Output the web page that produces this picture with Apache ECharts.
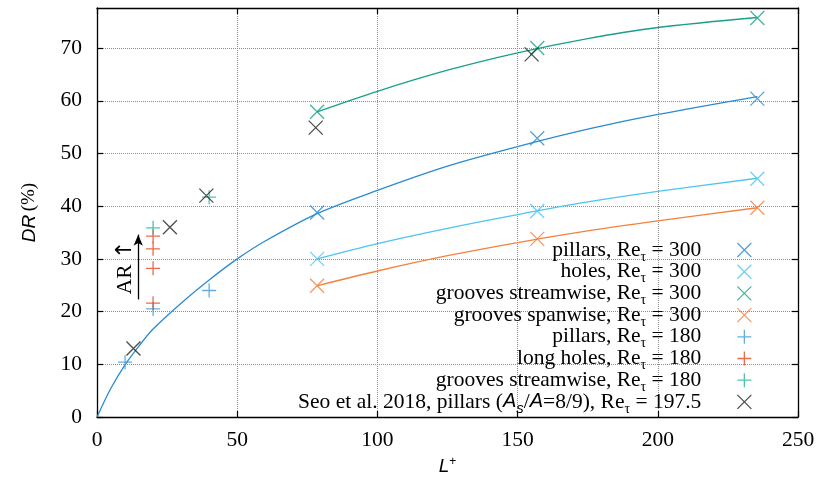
<!DOCTYPE html>
<html><head><meta charset="utf-8">
<script src="https://cdn.jsdelivr.net/npm/echarts@6/dist/echarts.min.js"></script>
<style>html,body{margin:0;padding:0;background:#fff}#c{width:822px;height:482px}</style>
</head><body><div id="c"></div><script>
// ---- tick labels ----
const xTicks = [0, 50, 100, 150, 200, 250];
const yTicks = [0, 10, 20, 30, 40, 50, 60, 70];

// ---- Re_tau = 300 data ----
const L300 = [78.5, 157, 235.5];
const pillars300 = [38.8, 52.9, 60.4];
const holes300 = [30.0, 39.1, 45.2];
const groovesStream300 = [57.9, 70.0, 75.7];
const groovesSpan300 = [24.9, 33.8, 39.7];

// ---- Re_tau = 180 data ----
const pillars180L = [10, 20, 40];
const pillars180 = [10.4, 20.5, 24.0];
const longHoles180L = [20, 20, 20, 20];
const longHoles180 = [21.6, 28.2, 31.9, 34.3];
const groovesStream180L = [20, 40];
const groovesStream180 = [35.9, 41.7];

// ---- Seo et al. 2018 ----
const seoL = [13, 26, 39, 78, 155];
const seoDR = [13.0, 36.0, 42.0, 54.9, 68.8];

// ---- fitted curves ----
const fitPillarsL = [0, 5, 10, 15, 20, 30, 40, 50, 60, 78.5, 100, 125, 150, 175, 200, 235.5];
const fitPillarsDR = [0, 5.5, 9.9, 13.5, 16.7, 21.6, 26.0, 30.0, 33.4, 38.6, 43.0, 47.6, 51.3, 54.6, 57.4, 60.8];
const fitL300 = [78.5, 100, 125, 150, 175, 200, 235.5];
const fitGroovesStreamDR = [57.9, 61.8, 65.8, 69.1, 71.8, 73.9, 75.8];
const fitHolesDR = [30.0, 32.9, 35.8, 38.4, 40.8, 42.8, 45.3];
const fitGroovesSpanDR = [24.9, 27.7, 30.6, 33.1, 35.3, 37.2, 39.7];

// ---- AR annotation (data coords) ----
const arrowL = [14.7, 14.7];
const arrowDR = [22.3, 34.6];
const arText = [10.2, 28.4];

const zip = (xs, ys) => xs.map((x, i) => [x, ys[i]]);
const X = 'path://M0,0L10,10M10,0L0,10';
const P = 'path://M5,0L5,10M0,5L10,5';
const SERIF = 'Liberation Serif';
const SANS = 'Liberation Sans';
const FS = 21.5;

const C = {
  pillars300: '#2a8bd0', holes300: '#4dc4f2', gs300: '#19a08a', gsp300: '#f5803e',
  pillars180: '#3a98da', lh180: '#e8441f', gs180: '#22b49a', seo: '#222222'
};
const labels = {
  pillars300: 'pillars, Re{s|τ} = 300',
  holes300: 'holes, Re{s|τ} = 300',
  gs300: 'grooves streamwise, Re{s|τ} = 300',
  gsp300: 'grooves spanwise, Re{s|τ} = 300',
  pillars180: 'pillars, Re{s|τ} = 180',
  lh180: 'long holes, Re{s|τ} = 180',
  gs180: 'grooves streamwise, Re{s|τ} = 180',
  seo: 'Seo et al. 2018, pillars ({i|A}{is|s}/{i|A}=8/9), Re{s|τ} = 197.5'
};
const icons = { pillars300: X, holes300: X, gs300: X, gsp300: X, pillars180: P, lh180: P, gs180: P, seo: X };

function scatter(name, xs, ys, extra) {
  return Object.assign({
    name, type: 'scatter', data: zip(xs, ys), symbol: icons[name], symbolSize: 14,
    itemStyle: { color: 'transparent', borderColor: C[name], borderWidth: 1.3 },
    z: 5, silent: true
  }, extra || {});
}
function fit(color, xs, ys) {
  return { type: 'line', data: zip(xs, ys), showSymbol: false, smooth: 0.3, silent: true,
    lineStyle: { color, width: 1.3 }, z: 3 };
}

const gridLine = { show: true, lineStyle: { color: '#8c8c8c', width: 1, type: [1, 1] } };
const axisLineS = { show: true, onZero: false, lineStyle: { color: '#000', width: 1.3 } };

const chart = echarts.init(document.getElementById('c'), null, { renderer: 'canvas' });
chart.setOption({
  animation: false,
  backgroundColor: '#fff',
  grid: { left: 97, right: 24, top: 8, bottom: 65, containLabel: false, outerBoundsMode: 'none' },
  xAxis: [{
    type: 'value', min: 0, max: 250, interval: 50, position: 'bottom',
    axisLine: axisLineS,
    axisTick: { show: true, inside: true, length: 6, lineStyle: { color: '#000', width: 1.2 }, customValues: xTicks },
    axisLabel: { show: true, margin: 12, color: '#000', fontFamily: SERIF, fontSize: FS, customValues: xTicks },
    splitLine: gridLine,
    name: '{i|L}{p|+}', nameLocation: 'middle', nameGap: 31,
    nameTextStyle: { rich: { i: { fontFamily: SANS, fontStyle: 'italic', fontSize: 19, color: '#000', lineHeight: 22 },
      p: { fontFamily: SANS, fontSize: 12, color: '#000', verticalAlign: 'top', lineHeight: 22 } } }
  }, {
    type: 'value', min: 0, max: 250, interval: 50, position: 'top',
    axisLine: axisLineS,
    axisTick: { show: true, inside: true, length: 6, lineStyle: { color: '#000', width: 1.2 }, customValues: xTicks },
    axisLabel: { show: false }, splitLine: { show: false }
  }],
  yAxis: [{
    type: 'value', min: 0, max: 77.6, interval: 10, position: 'left',
    axisLine: axisLineS,
    axisTick: { show: true, inside: true, length: 6, lineStyle: { color: '#000', width: 1.2 }, customValues: yTicks },
    axisLabel: { show: true, margin: 15, color: '#000', fontFamily: SERIF, fontSize: FS, customValues: yTicks },
    splitLine: Object.assign({}, gridLine),
    name: '{i|DR} {s|(%)}', nameLocation: 'middle', nameGap: 58, nameRotate: 90,
    nameTextStyle: { rich: { i: { fontFamily: SANS, fontStyle: 'italic', fontSize: 19, color: '#000' },
      s: { fontFamily: SERIF, fontSize: 19, color: '#000' } } }
  }, {
    type: 'value', min: 0, max: 77.6, interval: 10, position: 'right',
    axisLine: axisLineS,
    axisTick: { show: true, inside: true, length: 6, lineStyle: { color: '#000', width: 1.2 }, customValues: yTicks },
    axisLabel: { show: false }, splitLine: { show: false }
  }],
  legend: {
    orient: 'vertical', align: 'right', right: 70, top: 236, padding: 0, itemGap: -6.3,
    itemWidth: 14, itemHeight: 14, selectedMode: false,
    data: Object.keys(labels).map(k => ({ name: k, icon: icons[k],
      itemStyle: { color: 'transparent', borderColor: C[k], borderWidth: 1.3 } })),
    formatter: n => labels[n],
    textStyle: {
      color: '#000', fontFamily: SERIF, fontSize: FS, lineHeight: 28, padding: [0, 31, 0, 0],
      rich: {
        s: { fontFamily: SERIF, fontSize: 14, color: '#000', verticalAlign: 'bottom', lineHeight: 14 },
        i: { fontFamily: SANS, fontStyle: 'italic', fontSize: 20, color: '#000', lineHeight: 28 },
        is: { fontFamily: SANS, fontStyle: 'italic', fontSize: 15, color: '#000', verticalAlign: 'bottom', lineHeight: 15 }
      }
    }
  },
  series: [
    fit(C.pillars300, fitPillarsL, fitPillarsDR),
    fit(C.gs300, fitL300, fitGroovesStreamDR),
    fit(C.holes300, fitL300, fitHolesDR),
    fit(C.gsp300, fitL300, fitGroovesSpanDR),
    scatter('pillars300', L300, pillars300),
    scatter('holes300', L300, holes300),
    scatter('gs300', L300, groovesStream300),
    scatter('gsp300', L300, groovesSpan300),
    scatter('pillars180', pillars180L, pillars180),
    scatter('lh180', longHoles180L, longHoles180, {
      markLine: {
        silent: true, symbol: ['none', 'arrow'], symbolSize: [7, 11], animation: false,
        lineStyle: { color: '#000', width: 1.3, type: 'solid' }, label: { show: false },
        emphasis: { disabled: true },
        data: [[{ coord: [arrowL[0], arrowDR[0]] }, { coord: [arrowL[1], arrowDR[1]] }]]
      },
      markPoint: {
        silent: true, symbol: 'circle', symbolSize: 0,
        label: { show: true, position: 'inside', formatter: 'AR {a|↑}', rotate: 90, color: '#000',
          fontFamily: SERIF, fontSize: FS,
          rich: { a: { fontFamily: 'DejaVu Sans', fontSize: 22, color: '#000' } } },
        data: [{ coord: arText }]
      }
    }),
    scatter('gs180', groovesStream180L, groovesStream180),
    scatter('seo', seoL, seoDR)
  ]
});
</script></body></html>
